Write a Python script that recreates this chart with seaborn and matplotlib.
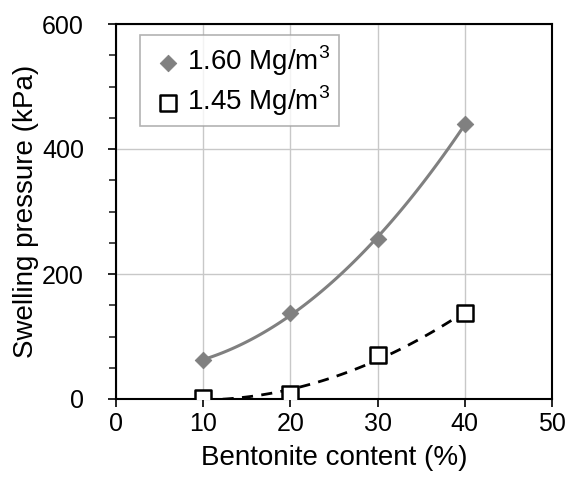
import numpy as np
import pandas as pd
import matplotlib
matplotlib.use("Agg")
import matplotlib.pyplot as plt
import seaborn as sns
from matplotlib.ticker import MultipleLocator

bentonite = [10, 20, 30, 40]
p_160 = [62, 137, 256, 440]
p_145 = [1, 8, 70, 137]
labels = ["1.60 Mg/m$^3$", "1.45 Mg/m$^3$"]

sns.set_theme(style="white")
plt.rcParams['font.family'] = ['Liberation Sans', 'DejaVu Sans']
plt.rcParams['mathtext.fontset'] = 'custom'
plt.rcParams['mathtext.rm'] = 'Liberation Sans'
plt.rcParams['text.color'] = 'black'

fig = plt.figure(figsize=(5.69, 4.79), dpi=100)
ax = fig.add_axes([116/569, 80/479, 436/569, 375/479])

# trend curves (quadratic fit through the data)
xs = np.linspace(10, 40, 100)
c1 = np.polyfit(bentonite, p_160, 2)
c2 = np.polyfit(bentonite, p_145, 2)
sns.lineplot(x=xs, y=np.polyval(c1, xs), ax=ax, color="#808080", lw=2.2)
sns.lineplot(x=xs, y=np.polyval(c2, xs), ax=ax, color="black", lw=2, linestyle=(0, (4, 3)))

sns.scatterplot(x=bentonite, y=p_160, ax=ax, marker="D", s=70, color="#808080",
                edgecolor="#808080", label=labels[0], zorder=5)
sns.scatterplot(x=bentonite, y=p_145, ax=ax, marker="s", s=130, facecolor="white",
                edgecolor="black", linewidth=1.8, label=labels[1], zorder=5)

ax.set_xlim(0, 50)
ax.set_ylim(0, 600)
ax.xaxis.set_major_locator(MultipleLocator(10))
ax.yaxis.set_major_locator(MultipleLocator(200))
ax.yaxis.set_minor_locator(MultipleLocator(50))
ax.grid(True, which="major", color="#c8c8c8", lw=1)
ax.set_axisbelow(True)
for s in ax.spines.values():
    s.set_color("black")
    s.set_linewidth(1.5)
ax.tick_params(axis="both", which="major", direction="out", length=6, width=1.2,
               labelsize=18, colors="black", left=True, bottom=True)
ax.tick_params(axis="y", which="major", pad=17)
ax.tick_params(axis="y", which="minor", direction="out", length=5, width=1.2, left=True)
ax.set_xlabel("Bentonite content (%)", fontsize=20, color="black", labelpad=6)
ax.set_ylabel("Swelling pressure (kPa)", fontsize=20, color="black", labelpad=2)

leg = ax.legend(loc="upper left", bbox_to_anchor=(0.055, 0.97), fontsize=20,
                frameon=True, fancybox=False, edgecolor="#a0a0a0",
                handletextpad=0.0, borderpad=0.3, labelspacing=0.2, handlelength=1.4,
                borderaxespad=0)
leg.get_frame().set_linewidth(1.2)
for t in leg.get_texts():
    t.set_color("black")

fig.savefig("out.png", dpi=100)
